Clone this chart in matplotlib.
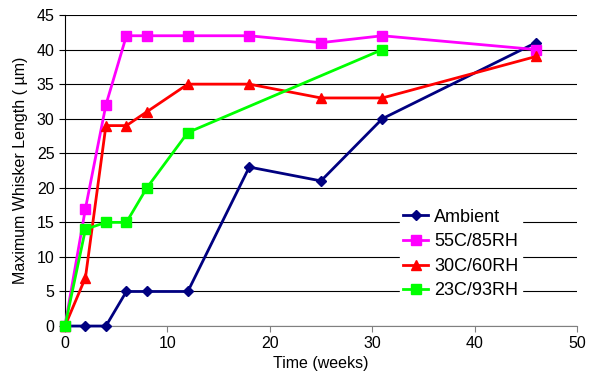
import matplotlib
matplotlib.use("Agg")
import matplotlib.pyplot as plt

plt.rcParams['font.family'] = ['Liberation Sans', 'DejaVu Sans']

weeks = [0, 2, 4, 6, 8, 12, 18, 25, 31, 46]
ambient = [0, 0, 0, 5, 5, 5, 23, 21, 30, 41]
c55_85 = [0, 17, 32, 42, 42, 42, 42, 41, 42, 40]
c30_60 = [0, 7, 29, 29, 31, 35, 35, 33, 33, 39]
weeks_23 = [0, 2, 4, 6, 8, 12, 31]
c23_93 = [0, 14, 15, 15, 20, 28, 40]

fig = plt.figure(figsize=(5.96, 3.9), dpi=100)
ax = fig.add_axes([0.109, 0.164, 0.859, 0.7975])

ax.plot(weeks, ambient, color='#000080', marker='D', markersize=5, lw=2, label='Ambient', clip_on=False, zorder=3)
ax.plot(weeks, c55_85, color='#FF00FF', marker='s', markersize=6.5, lw=2, label='55C/85RH', clip_on=False, zorder=3)
ax.plot(weeks, c30_60, color='#FF0000', marker='^', markersize=7, lw=2, label='30C/60RH', clip_on=False, zorder=3)
ax.plot(weeks_23, c23_93, color='#00FF00', marker='s', markersize=6.5, lw=2, label='23C/93RH', clip_on=False, zorder=3)

ax.set_xlim(0, 50)
ax.set_ylim(0, 45)
ax.set_xticks(range(0, 51, 10))
ax.set_yticks(range(0, 46, 5))
ax.yaxis.grid(True, color='black', lw=0.8)
ax.set_axisbelow(True)
for s in ['top', 'right']:
    ax.spines[s].set_visible(False)
ax.spines['left'].set_linewidth(0.8)
ax.spines['bottom'].set_color('#808080')
ax.tick_params(direction='out', length=4, labelsize=11.5, colors='black')
ax.tick_params(axis='x', color='#808080')
ax.set_xlabel('Time (weeks)', fontsize=11.5, labelpad=3)
ax.set_ylabel('Maximum Whisker Length ( µm)', fontsize=11.5, labelpad=6)

leg = ax.legend(loc='upper left', bbox_to_anchor=(0.636, 0.418), frameon=True, fontsize=13,
                handlelength=1.4, handletextpad=0.3, labelspacing=0.42, borderpad=0.2,
                fancybox=False)
leg.get_frame().set_edgecolor('white')
leg.get_frame().set_facecolor('white')
leg.get_frame().set_alpha(1)

fig.savefig('out.png', dpi=100)
